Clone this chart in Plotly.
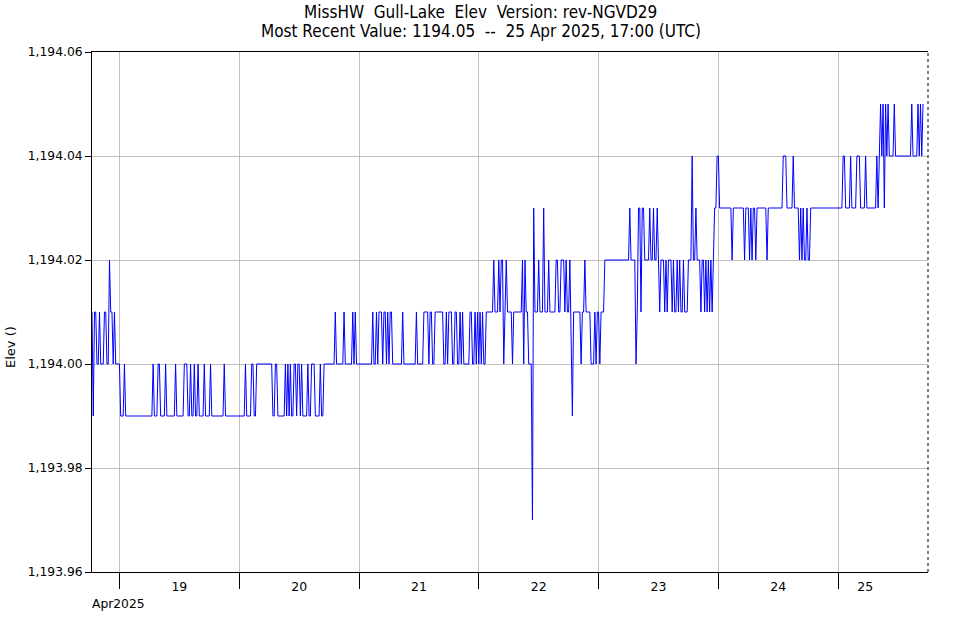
import pandas as pd
import plotly.graph_objects as go

# ---- data: 15-minute elevations, run-length encoded per day: (elev, number of samples)
day_start = ["2025-04-18 18:30", "2025-04-19", "2025-04-20", "2025-04-21",
             "2025-04-22", "2025-04-23", "2025-04-24", "2025-04-25"]

runs_apr18 = [(1194.01, 1), (1193.99, 1), (1194.01, 2), (1194.00, 2), (1194.01, 1), (1194.00, 3),
              (1194.01, 2), (1194.00, 2), (1194.02, 1), (1194.01, 2), (1194.00, 1), (1194.01, 1),
              (1194.00, 3)]
runs_apr19 = [(1194.00, 1), (1193.99, 3), (1194.00, 1), (1193.99, 22), (1194.00, 1), (1193.99, 3),
              (1194.00, 2), (1193.99, 4), (1194.00, 1), (1193.99, 7), (1194.00, 1), (1193.99, 6),
              (1194.00, 3), (1193.99, 2), (1194.00, 1), (1193.99, 2), (1194.00, 1), (1193.99, 2),
              (1194.00, 1), (1193.99, 4), (1194.00, 1), (1193.99, 4), (1194.00, 1), (1193.99, 10),
              (1194.00, 1), (1193.99, 11)]
runs_apr20 = [(1193.99, 5), (1194.00, 1), (1193.99, 4), (1194.00, 2), (1193.99, 2), (1194.00, 13),
              (1193.99, 2), (1194.00, 2), (1193.99, 6), (1194.00, 1), (1193.99, 1), (1194.00, 1),
              (1193.99, 1), (1194.00, 1), (1193.99, 2), (1194.00, 2), (1193.99, 1), (1194.00, 2),
              (1193.99, 1), (1194.00, 1), (1193.99, 4), (1194.00, 1), (1193.99, 2), (1194.00, 3),
              (1193.99, 4), (1194.00, 1), (1193.99, 2), (1194.00, 9), (1194.01, 1), (1194.00, 6),
              (1194.01, 1), (1194.00, 6), (1194.01, 1), (1194.00, 1), (1194.01, 1), (1194.00, 2)]
runs_apr21 = [(1194.00, 11), (1194.01, 1), (1194.00, 2), (1194.01, 1), (1194.00, 1), (1194.01, 3),
              (1194.00, 1), (1194.01, 2), (1194.00, 1), (1194.01, 1), (1194.00, 1), (1194.01, 2),
              (1194.00, 8), (1194.01, 1), (1194.00, 10), (1194.01, 1), (1194.00, 5), (1194.01, 4),
              (1194.00, 1), (1194.01, 2), (1194.00, 2), (1194.01, 7), (1194.00, 2), (1194.01, 1),
              (1194.00, 1), (1194.01, 3), (1194.00, 2), (1194.01, 2), (1194.00, 2), (1194.01, 1),
              (1194.00, 1), (1194.01, 1), (1194.00, 5), (1194.01, 2), (1194.00, 2), (1194.01, 1),
              (1194.00, 1), (1194.01, 1)]
runs_apr22 = [(1194.00, 1), (1194.01, 1), (1194.00, 1), (1194.01, 1), (1194.00, 2), (1194.01, 6),
              (1194.02, 1), (1194.01, 3), (1194.02, 1), (1194.01, 1), (1194.02, 2), (1194.00, 1),
              (1194.01, 1), (1194.02, 1), (1194.01, 4), (1194.00, 1), (1194.01, 7), (1194.02, 1),
              (1194.00, 1), (1194.02, 1), (1194.01, 2), (1194.00, 3), (1193.97, 1), (1194.03, 1),
              (1194.01, 3), (1194.02, 1), (1194.01, 3), (1194.03, 1), (1194.01, 3), (1194.02, 1),
              (1194.01, 5), (1194.02, 2), (1194.01, 2), (1194.02, 3), (1194.01, 1), (1194.02, 1),
              (1194.01, 2), (1194.02, 1), (1194.00, 1), (1193.99, 1), (1194.01, 6), (1194.00, 1),
              (1194.01, 2), (1194.02, 1), (1194.01, 4), (1194.00, 3), (1194.01, 1), (1194.00, 1),
              (1194.01, 1)]
runs_apr23 = [(1194.01, 1), (1194.00, 1), (1194.01, 3), (1194.02, 20), (1194.03, 1), (1194.02, 4),
              (1194.00, 1), (1194.01, 1), (1194.03, 2), (1194.01, 1), (1194.03, 2), (1194.02, 4),
              (1194.03, 1), (1194.02, 2), (1194.03, 1), (1194.02, 2), (1194.03, 1), (1194.02, 1),
              (1194.01, 1), (1194.02, 3), (1194.01, 1), (1194.02, 1), (1194.01, 1), (1194.02, 3),
              (1194.01, 1), (1194.02, 1), (1194.01, 2), (1194.02, 1), (1194.01, 1), (1194.02, 1),
              (1194.01, 2), (1194.02, 1), (1194.01, 3), (1194.02, 3), (1194.04, 1), (1194.02, 2),
              (1194.03, 1), (1194.02, 3), (1194.01, 1), (1194.02, 2), (1194.01, 1), (1194.02, 1),
              (1194.01, 1), (1194.02, 1), (1194.01, 1), (1194.02, 1), (1194.01, 1), (1194.02, 1),
              (1194.03, 2), (1194.04, 1)]
runs_apr24 = [(1194.04, 1), (1194.03, 10), (1194.02, 1), (1194.03, 9), (1194.02, 1), (1194.03, 3),
              (1194.02, 1), (1194.03, 1), (1194.02, 1), (1194.03, 2), (1194.02, 1), (1194.03, 8),
              (1194.02, 1), (1194.03, 12), (1194.04, 3), (1194.03, 5), (1194.04, 1), (1194.03, 4),
              (1194.02, 1), (1194.03, 1), (1194.02, 1), (1194.03, 1), (1194.02, 2), (1194.03, 1),
              (1194.02, 2), (1194.03, 22)]
runs_apr25 = [(1194.03, 4), (1194.04, 2), (1194.03, 4), (1194.04, 1), (1194.03, 4), (1194.04, 3),
              (1194.03, 4), (1194.04, 1), (1194.03, 8), (1194.04, 1), (1194.03, 1), (1194.04, 1),
              (1194.05, 1), (1194.04, 1), (1194.05, 1), (1194.03, 1), (1194.05, 1), (1194.04, 1),
              (1194.05, 1), (1194.04, 4), (1194.05, 1), (1194.04, 13), (1194.05, 1), (1194.04, 4),
              (1194.05, 1), (1194.04, 1), (1194.05, 1), (1194.04, 1), (1194.05, 1)]

all_runs = [runs_apr18, runs_apr19, runs_apr20, runs_apr21,
            runs_apr22, runs_apr23, runs_apr24, runs_apr25]

day_ticks = ["2025-04-19", "2025-04-20", "2025-04-21", "2025-04-22",
             "2025-04-23", "2025-04-24", "2025-04-25"]
day_labels = ["19", "20", "21", "22", "23", "24", "25"]
day_label_pos = ["2025-04-19 12:00", "2025-04-20 12:00", "2025-04-21 12:00", "2025-04-22 12:00",
                 "2025-04-23 12:00", "2025-04-24 12:00", "2025-04-25 05:25"]
y_ticks = [1193.96, 1193.98, 1194.00, 1194.02, 1194.04, 1194.06]
x_range = ["2025-04-18 18:30", "2025-04-25 18:00"]

title_l1 = "MissHW  Gull-Lake  Elev  Version: rev-NGVD29"
title_l2 = "Most Recent Value: 1194.05  --  25 Apr 2025, 17:00 (UTC)"
y_title = "Elev ()"
month_label = "Apr2025"

# ---- expand runs into a time series
times, elev = [], []
for start, runs in zip(day_start, all_runs):
    t0 = pd.Timestamp(start)
    k = 0
    for v, n in runs:
        for _ in range(n):
            times.append(t0 + pd.Timedelta(minutes=15 * k))
            elev.append(v)
            k += 1

FONT = "DejaVu Sans"
TFONT = "DejaVu Sans Condensed, DejaVu Sans"
W, H = 961, 620
ML, MR, MT, MB = 92, 33, 52, 48
page_center = (W / 2 - ML) / (W - ML - MR)

fig = go.Figure()
fig.add_trace(go.Scatter(x=times, y=elev, mode="lines",
                         line=dict(color="#0000ff", width=1), showlegend=False,
                         xaxis="x", yaxis="y"))
# invisible trace to activate the label axis
fig.add_trace(go.Scatter(x=[times[0]], y=[elev[0]], mode="lines", showlegend=False,
                         line=dict(color="rgba(0,0,0,0)"), xaxis="x2", yaxis="y",
                         hoverinfo="skip"))

fig.update_layout(
    width=W, height=H,
    margin=dict(l=ML, r=MR, t=MT, b=MB, autoexpand=False),
    paper_bgcolor="white", plot_bgcolor="white",
    font=dict(family=FONT, size=12, color="black"),
    xaxis=dict(type="date", range=x_range, tickmode="array", tickvals=day_ticks,
               ticktext=["" for _ in day_ticks], ticks="outside", ticklen=16, tickwidth=1,
               tickcolor="black", showgrid=True, gridcolor="#c0c0c0", gridwidth=1,
               showline=True, linecolor="black", linewidth=1, mirror=True, zeroline=False,
               automargin=False),
    xaxis2=dict(type="date", overlaying="x", matches="x", anchor="y", side="bottom",
                tickmode="array", tickvals=day_label_pos, ticktext=day_labels,
                ticks="outside", ticklen=3, tickcolor="rgba(0,0,0,0)", showgrid=False,
                showline=False, zeroline=False, automargin=False,
                tickfont=dict(family=FONT, size=12.5)),
    yaxis=dict(range=[1193.96, 1194.06], tickmode="array", tickvals=y_ticks,
               tickformat=",.2f", ticks="outside", ticklen=6, tickcolor="black",
               showgrid=True, gridcolor="#c0c0c0", gridwidth=1, showline=True,
               linecolor="black", linewidth=1, zeroline=False, automargin=False,
               tickfont=dict(family=FONT, size=12.3)),
    hovermode=False,
)
fig.add_shape(type="line", xref="paper", yref="paper", x0=1, x1=1, y0=0, y1=1,
              line=dict(color="black", width=1, dash="dot"))
# two-line title, centred on the page
fig.add_annotation(text=title_l1, xref="paper", yref="paper", x=page_center, y=1,
                   xanchor="center", yanchor="middle", yshift=40, showarrow=False,
                   font=dict(family=TFONT, size=17, color="black"))
fig.add_annotation(text=title_l2, xref="paper", yref="paper", x=page_center, y=1,
                   xanchor="center", yanchor="middle", yshift=21, showarrow=False,
                   font=dict(family=TFONT, size=17, color="black"))
# y axis title
fig.add_annotation(text=y_title, xref="paper", yref="paper", x=0, y=0.5,
                   xanchor="center", yanchor="middle", xshift=-82, yshift=-35,
                   textangle=-90, showarrow=False,
                   font=dict(family=FONT, size=13, color="black"))
fig.add_annotation(text=month_label, xref="paper", yref="paper", x=0, y=0,
                   xanchor="left", yanchor="top", xshift=-2, yshift=-23, showarrow=False,
                   font=dict(family=FONT, size=12.3, color="black"))

fig.write_html("out.html")
